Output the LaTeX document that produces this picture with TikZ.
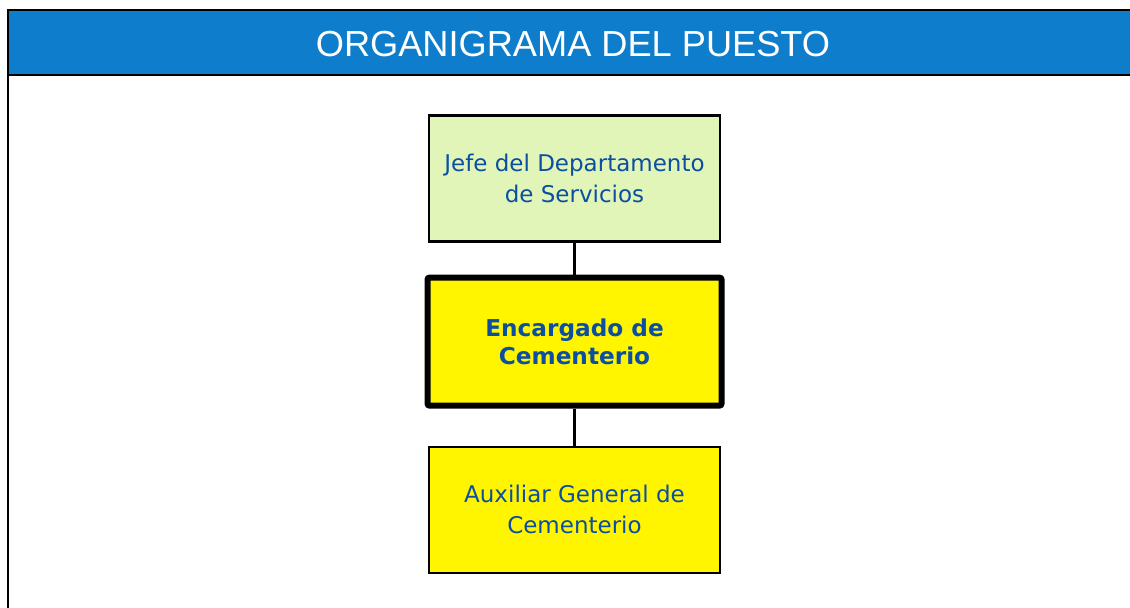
\documentclass[tikz,border=0pt]{standalone}
\usepackage{fontspec}
\setmainfont{DejaVu Sans}
\newfontfamily\titlefont{Liberation Sans}
\usetikzlibrary{positioning}
\definecolor{barblue}{HTML}{0E7DCB}
\definecolor{textblue}{HTML}{0B4EA2}
\definecolor{bossgreen}{HTML}{E2F5B9}
\definecolor{postyellow}{HTML}{FFF500}
\tikzset{
  font=\fontsize{11.5pt}{15.5pt}\selectfont,
  block/.style={
    draw,
    minimum width=145.5pt,
    minimum height=63pt,
    align=center,
    inner sep=3pt,
    line width=1.1pt,
    text=textblue
  },
  bossblock/.style={block, fill=bossgreen},
  postblock/.style={block, fill=postyellow, line width=3pt, rounded corners=1pt,
    font=\fontsize{11.6pt}{14pt}\selectfont\bfseries},
  auxblock/.style={block, fill=postyellow},
  link/.style={line width=1.1pt},
  frame/.style={line width=1.1pt}
}

\begin{document}
\begin{tikzpicture}[x=0.5pt, y=-0.5pt, node distance=16pt]
  \useasboundingbox (0,0) rectangle (1130,608);

  % title bar and frame
  \fill[barblue] (8,10) rectangle (1132,75);
  \draw[frame] (8,610) -- (8,10) -- (1132,10);
  \draw[frame] (8,75) -- (1132,75);
  \node[text=white, font=\titlefont\fontsize{18.1pt}{20pt}\selectfont] (title)
    at (573,44) {ORGANIGRAMA DEL PUESTO};

  \node[bossblock] (jefe) at (574.5,178.5) {Jefe del Departamento\\de Servicios};
  \node[postblock, below=of jefe, minimum width=147pt, minimum height=64pt] (encargado)
    {Encargado de\\Cementerio};
  \node[auxblock, below=18.5pt of encargado] (auxiliar)
    {Auxiliar General de\\Cementerio};

  \draw[link] (jefe) -- (encargado);
  \draw[link] (encargado) -- (auxiliar);
\end{tikzpicture}
\end{document}
